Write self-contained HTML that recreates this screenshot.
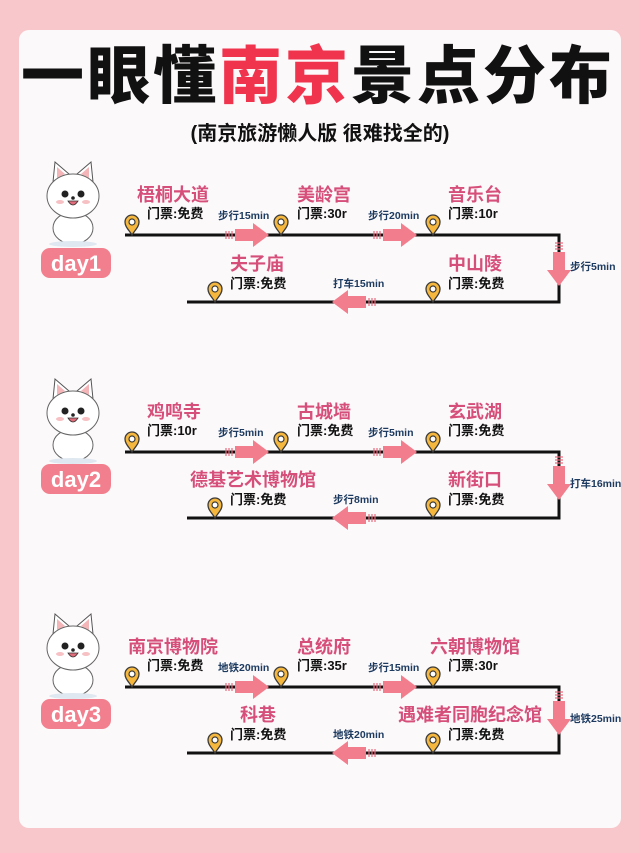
<!DOCTYPE html>
<html><head><meta charset="utf-8"><style>
html,body{margin:0;padding:0;width:640px;height:853px;background:#f7c7cb;overflow:hidden}
svg{display:block}
.nm{font-family:"Liberation Sans","Noto Sans CJK SC",sans-serif;font-weight:700;font-size:18px;fill:#d64f7b}
.tk{font-family:"Liberation Sans","Noto Sans CJK SC",sans-serif;font-weight:700;font-size:13px;fill:#111}
.tr{font-family:"Liberation Sans","Noto Sans CJK SC",sans-serif;font-weight:700;font-size:10.5px;fill:#1d3b60}
.bd{font-family:"Liberation Sans","DejaVu Sans",sans-serif;font-weight:700;font-size:22px;fill:#fff}
</style></head><body>
<svg width="640" height="853" viewBox="0 0 640 853" xmlns="http://www.w3.org/2000/svg">
<defs>
<g id="pin"><path d="M0,0 C-3,-5 -7,-8 -7,-13 A7,7 0 1 1 7,-13 C7,-8 3,-5 0,0Z" fill="#f5b73e" stroke="#3a3a3a" stroke-width="1.3"/><circle cx="0" cy="-13" r="3" fill="#fff" stroke="#3a3a3a" stroke-width="1.2"/></g>
<g id="ar"><g stroke="#e8697d" stroke-width="1.2"><line x1="-42" y1="-4" x2="-42" y2="4"/><line x1="-39" y1="-4" x2="-39" y2="4"/><line x1="-36" y1="-4" x2="-36" y2="4"/></g><polygon points="-33,-6 -15,-6 -15,-12 1,0 -15,12 -15,6 -33,6" fill="#f27d8d"/></g>
<g id="dog">
<path d="M8,22 L10,2 L24,14Z M48,22 L46,2 L32,14Z" fill="#fff" stroke="#555" stroke-width="1"/>
<path d="M12,18 L12,7 L20,14Z M44,18 L44,7 L36,14Z" fill="#f4b5b8"/>
<ellipse cx="28" cy="68" rx="20" ry="16" fill="#fff" stroke="#666" stroke-width="1"/>
<ellipse cx="28" cy="36" rx="26" ry="22" fill="#fff" stroke="#666" stroke-width="1"/>
<circle cx="20" cy="34" r="3.5" fill="#222"/><circle cx="36" cy="34" r="3.5" fill="#222"/>
<ellipse cx="15" cy="42" rx="4" ry="2" fill="#f7c0c3"/><ellipse cx="41" cy="42" rx="4" ry="2" fill="#f7c0c3"/>
<path d="M23,41 Q28,49 33,41Z" fill="#e06b7a" stroke="#333" stroke-width="0.8"/>
<circle cx="28" cy="38" r="1.8" fill="#222"/>
<ellipse cx="28" cy="84" rx="24" ry="3" fill="#dfe8f0"/>
</g>
</defs>
<rect x="19" y="30" width="602" height="798" rx="10" fill="#fcf9fa"/>
<text x="318" y="98" text-anchor="middle" font-family="'Liberation Sans','Noto Sans CJK SC',sans-serif" font-weight="900" font-size="63" fill="#111" letter-spacing="3">一眼懂<tspan fill="#f0344e">南京</tspan>景点分布</text>
<text x="320" y="140" text-anchor="middle" font-family="'Liberation Sans','Noto Sans CJK SC',sans-serif" font-weight="700" font-size="20" fill="#111">(南京旅游懒人版 很难找全的)</text>

<g>
<use href="#dog" x="45" y="160"/>
<rect x="41" y="248" width="70" height="30" rx="9" fill="#f27f8d"/><text class="bd" x="76" y="271" text-anchor="middle">day1</text>
<path d="M125,235 H559 V302 H187" fill="none" stroke="#111" stroke-width="3"/>
<use href="#ar" x="268" y="235"/><use href="#ar" x="416" y="235"/>
<use href="#ar" transform="translate(333,302) rotate(180)"/>
<use href="#ar" transform="translate(559,285) rotate(90)"/>
<use href="#pin" x="132" y="235"/><use href="#pin" x="281" y="235"/><use href="#pin" x="433" y="235"/>
<use href="#pin" x="215" y="302"/><use href="#pin" x="433" y="302"/>
<text class="nm" x="137" y="201">梧桐大道</text><text class="nm" x="297" y="201">美龄宫</text><text class="nm" x="448" y="201">音乐台</text>
<text class="tk" x="147" y="218">门票:免费</text><text class="tk" x="297" y="218">门票:30r</text><text class="tk" x="448" y="218">门票:10r</text>
<text class="tr" x="218" y="219">步行15min</text><text class="tr" x="368" y="219">步行20min</text>
<text class="tr" x="570" y="270">步行5min</text>
<text class="nm" x="230" y="270">夫子庙</text><text class="nm" x="448" y="270">中山陵</text>
<text class="tk" x="230" y="288">门票:免费</text><text class="tk" x="448" y="288">门票:免费</text>
<text class="tr" x="333" y="287">打车15min</text>
</g>

<g>
<use href="#dog" x="45" y="377"/>
<rect x="41" y="464" width="70" height="30" rx="9" fill="#f27f8d"/><text class="bd" x="76" y="487" text-anchor="middle">day2</text>
<path d="M125,452 H559 V518 H187" fill="none" stroke="#111" stroke-width="3"/>
<use href="#ar" x="268" y="452"/><use href="#ar" x="416" y="452"/>
<use href="#ar" transform="translate(333,518) rotate(180)"/>
<use href="#ar" transform="translate(559,499) rotate(90)"/>
<use href="#pin" x="132" y="452"/><use href="#pin" x="281" y="452"/><use href="#pin" x="433" y="452"/>
<use href="#pin" x="215" y="518"/><use href="#pin" x="433" y="518"/>
<text class="nm" x="147" y="418">鸡鸣寺</text><text class="nm" x="297" y="418">古城墙</text><text class="nm" x="448" y="418">玄武湖</text>
<text class="tk" x="147" y="435">门票:10r</text><text class="tk" x="297" y="435">门票:免费</text><text class="tk" x="448" y="435">门票:免费</text>
<text class="tr" x="218" y="436">步行5min</text><text class="tr" x="368" y="436">步行5min</text>
<text class="tr" x="570" y="487">打车16min</text>
<text class="nm" x="190" y="486">德基艺术博物馆</text><text class="nm" x="448" y="486">新街口</text>
<text class="tk" x="230" y="504">门票:免费</text><text class="tk" x="448" y="504">门票:免费</text>
<text class="tr" x="333" y="503">步行8min</text>
</g>

<g>
<use href="#dog" x="45" y="612"/>
<rect x="41" y="699" width="70" height="30" rx="9" fill="#f27f8d"/><text class="bd" x="76" y="722" text-anchor="middle">day3</text>
<path d="M125,687 H559 V753 H187" fill="none" stroke="#111" stroke-width="3"/>
<use href="#ar" x="268" y="687"/><use href="#ar" x="416" y="687"/>
<use href="#ar" transform="translate(333,753) rotate(180)"/>
<use href="#ar" transform="translate(559,734) rotate(90)"/>
<use href="#pin" x="132" y="687"/><use href="#pin" x="281" y="687"/><use href="#pin" x="433" y="687"/>
<use href="#pin" x="215" y="753"/><use href="#pin" x="433" y="753"/>
<text class="nm" x="128" y="653">南京博物院</text><text class="nm" x="297" y="653">总统府</text><text class="nm" x="430" y="653">六朝博物馆</text>
<text class="tk" x="147" y="670">门票:免费</text><text class="tk" x="297" y="670">门票:35r</text><text class="tk" x="448" y="670">门票:30r</text>
<text class="tr" x="218" y="671">地铁20min</text><text class="tr" x="368" y="671">步行15min</text>
<text class="tr" x="570" y="722">地铁25min</text>
<text class="nm" x="240" y="721">科巷</text><text class="nm" x="398" y="721">遇难者同胞纪念馆</text>
<text class="tk" x="230" y="739">门票:免费</text><text class="tk" x="448" y="739">门票:免费</text>
<text class="tr" x="333" y="738">地铁20min</text>
</g>
</svg>
</body></html>
